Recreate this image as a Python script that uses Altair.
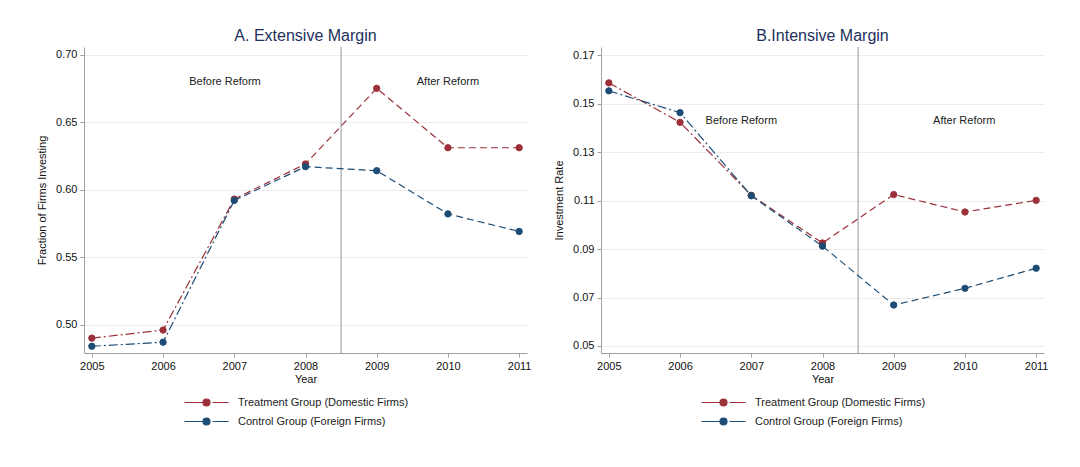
import altair as alt
import pandas as pd

FONT = "Liberation Sans"

years = [2005, 2006, 2007, 2008, 2009, 2010, 2011]
groups = ["Treatment Group (Domestic Firms)", "Control Group (Foreign Firms)"]
colors = ["#9b3039", "#1d4c74"]

ext_treatment = [0.490, 0.496, 0.593, 0.619, 0.675, 0.631, 0.631]
ext_control = [0.484, 0.487, 0.592, 0.617, 0.614, 0.582, 0.569]
int_treatment = [0.1586, 0.1423, 0.1122, 0.0925, 0.1125, 0.1053, 0.1101]
int_control = [0.1553, 0.1463, 0.1120, 0.0912, 0.0669, 0.0738, 0.0821]

ext_ticks = [0.50, 0.55, 0.60, 0.65, 0.70]
int_ticks = [0.05, 0.07, 0.09, 0.11, 0.13, 0.15, 0.17]
ext_domain = [0.479, 0.7056]
int_domain = [0.0471, 0.1734]
x_domain = [2004.89, 2011.11]

reform_year = [2008.5]
period_labels = ["Before Reform", "After Reform"]
ext_label_x = [2006.87, 2010.0]
ext_label_y = [0.6797, 0.6797]
int_label_x = [2006.86, 2009.99]
int_label_y = [0.143, 0.143]

LEGEND_PATH = "M-6.3,0L-1,0M1.7,0L6.3,0M-1,0A1,1,0,1,0,1,0A1,1,0,1,0,-1,0Z"


def panel(treat, ctrl, ticks, ydomain, ytitle, title, lab_x, lab_y):
    df = pd.DataFrame({
        "year": years * 2,
        "value": treat + ctrl,
        "group": [groups[0]] * len(years) + [groups[1]] * len(years),
    })
    xs = alt.Scale(domain=x_domain, nice=False, zero=False)
    ys = alt.Scale(domain=ydomain, nice=False, zero=False)
    x = alt.X("year:Q", scale=xs,
              axis=alt.Axis(values=years, format="d", title="Year", grid=False))
    y = alt.Y("value:Q", scale=ys,
              axis=alt.Axis(values=ticks, format=".2f", title=ytitle, grid=True))
    leg = alt.Legend(orient="none", legendX=117, legendY=350, title=None,
                     symbolType=LEGEND_PATH, symbolSize=49, symbolStrokeWidth=1.2,
                     labelFont=FONT, labelFontSize=11, labelColor="#222222",
                     labelOffset=26, rowPadding=6, padding=0, labelLimit=0,
                     direction="vertical")
    sc = alt.Scale(domain=groups, range=colors)
    base = alt.Chart(df)
    pre = base.transform_filter(alt.datum.year <= 2007).mark_line(
        strokeWidth=1.2, strokeDash=[9, 3, 2, 3]
    ).encode(x=x, y=y, stroke=alt.Stroke("group:N", scale=sc, legend=leg))
    post = base.transform_filter(alt.datum.year >= 2007).mark_line(
        strokeWidth=1.2, strokeDash=[7, 4]
    ).encode(x=x, y=y, stroke=alt.Stroke("group:N", scale=sc, legend=leg))
    pts = base.mark_point(filled=True, size=40, opacity=1, strokeWidth=1).encode(
        x=x, y=y,
        fill=alt.Fill("group:N", scale=sc, legend=leg),
        stroke=alt.Stroke("group:N", scale=sc, legend=leg),
    )
    rule = alt.Chart(pd.DataFrame({"year": reform_year})).mark_rule(
        color="#a8a8a8", strokeWidth=1.2
    ).encode(x=alt.X("year:Q", scale=xs))
    txt = alt.Chart(pd.DataFrame({"year": lab_x, "value": lab_y, "label": period_labels})).mark_text(
        font=FONT, fontSize=11, color="#222222", align="center", baseline="middle"
    ).encode(
        x=alt.X("year:Q", scale=xs),
        y=alt.Y("value:Q", scale=ys),
        text="label:N",
    )
    return alt.layer(rule, pre, post, pts, txt).properties(
        width=443, height=306,
        title=alt.TitleParams(title, anchor="middle"),
    )


left = panel(ext_treatment, ext_control, ext_ticks, ext_domain,
             "Fraction of Firms Investing", "A. Extensive Margin", ext_label_x, ext_label_y)
right = panel(int_treatment, int_control, int_ticks, int_domain,
              "Investment Rate", "B.Intensive Margin", int_label_x, int_label_y)

chart = alt.hconcat(left, right, spacing=22).resolve_scale(
    x="independent", y="independent", fill="independent", stroke="independent"
).properties(
    padding={"left": 28, "top": 20, "right": 5, "bottom": 5},
    background="white",
).configure_view(stroke=None).configure_axis(
    domainColor="#a0a0a0", tickColor="#a0a0a0", tickSize=4,
    labelFont=FONT, labelFontSize=11, labelColor="#111111",
    titleFont=FONT, titleFontSize=11, titleFontWeight="normal", titleColor="#111111",
    gridColor="#ececec",
).configure_axisY(titlePadding=8, labelPadding=3).configure_axisX(
    labelPadding=3, titlePadding=2
).configure_title(
    font=FONT, fontSize=16, fontWeight="normal", color="#22305c", offset=2
)

chart.save("out.html", embed_options={"renderer": "svg", "actions": False})
